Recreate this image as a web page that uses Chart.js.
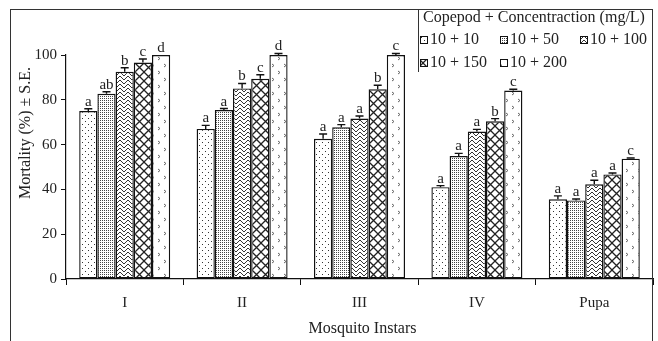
<!DOCTYPE html>
<html>
<head>
<meta charset="utf-8">
<script src="https://cdn.jsdelivr.net/npm/chart.js@4.4.1/dist/chart.umd.min.js"></script>
<style>
  html, body { margin: 0; padding: 0; background: #fff; }
  #wrap { width: 658px; height: 341px; position: relative; }
</style>
</head>
<body>
<div id="wrap"><canvas id="chartMortalidad"></canvas></div>
<script>
// ---- datos ----
const instars = ['I', 'II', 'III', 'IV', 'Pupa'];
const seriesLabels = ['10 + 10', '10 + 50', '10 + 100', '10 + 150', '10 + 200'];

const mort10_10  = [75.0, 67.0, 62.6, 41.0, 35.6];
const mort10_50  = [82.7, 75.4, 67.7, 54.9, 35.1];
const mort10_100 = [92.5, 85.1, 71.6, 65.8, 42.3];
const mort10_150 = [96.6, 89.4, 84.7, 70.4, 46.7];
const mort10_200 = [100, 100, 100, 84.1, 53.7];

const se10_10  = [1.0, 1.6, 2.1, 0.7, 1.5];
const se10_50  = [0.9, 0.7, 1.2, 1.2, 0.6];
const se10_100 = [1.8, 2.2, 1.2, 1.0, 1.8];
const se10_150 = [1.6, 1.8, 1.8, 1.2, 0.6];
const se10_200 = [0, 0.7, 0.7, 0.6, 0.3];

const let10_10  = ['a', 'a', 'a', 'a', 'a'];
const let10_50  = ['ab', 'a', 'a', 'a', 'a'];
const let10_100 = ['b', 'b', 'a', 'a', 'a'];
const let10_150 = ['c', 'c', 'b', 'b', 'a'];
const let10_200 = ['d', 'd', 'c', 'c', 'c'];

const yTicks = [0, 20, 40, 60, 80, 100];

const FONT = "'Liberation Serif', 'Times New Roman', serif";

// ---- tramas (patterns) ----
function crearTrama(tipo) {
  const c = document.createElement('canvas');
  const g = c.getContext('2d');
  let w = 6, h = 6;
  if (tipo === 2) { w = 2; h = 2; }
  if (tipo === 3) { w = 8; h = 8; }
  if (tipo === 4) { w = 9; h = 9; }
  if (tipo === 5) { w = 12; h = 14; }
  c.width = w; c.height = h;
  g.fillStyle = '#fff';
  g.fillRect(0, 0, w, h);
  g.fillStyle = '#333';
  g.strokeStyle = '#333';
  if (tipo === 1) {
    g.fillRect(1, 1, 1, 1);
    g.fillRect(4, 4, 1, 1);
  } else if (tipo === 2) {
    g.fillStyle = '#444';
    g.fillRect(0, 0, 1, 1);
  } else if (tipo === 3) {
    g.lineWidth = 1;
    g.beginPath();
    g.moveTo(0, 0); g.lineTo(4, 4); g.lineTo(8, 0);
    g.moveTo(0, 4); g.lineTo(4, 8); g.lineTo(8, 4);
    g.stroke();
  } else if (tipo === 4) {
    g.lineWidth = 1.3;
    g.strokeStyle = '#222';
    g.beginPath();
    g.moveTo(-1, -1); g.lineTo(10, 10);
    g.moveTo(10, -1); g.lineTo(-1, 10);
    g.stroke();
  } else if (tipo === 5) {
    g.lineWidth = 1;
    g.strokeStyle = '#666';
    g.beginPath();
    g.moveTo(2, 1); g.lineTo(4, 2.5); g.lineTo(2, 4);
    g.moveTo(8, 8); g.lineTo(10, 9.5); g.lineTo(8, 11);
    g.stroke();
  }
  return g.createPattern(c, 'repeat');
}

const tramas = [1, 2, 3, 4, 5].map(crearTrama);

const valores = [mort10_10, mort10_50, mort10_100, mort10_150, mort10_200];
const errores = [se10_10, se10_50, se10_100, se10_150, se10_200];
const letras = [let10_10, let10_50, let10_100, let10_150, let10_200];

const datasets = seriesLabels.map((lab, i) => ({
  label: lab,
  data: valores[i],
  errores: errores[i],
  letras: letras[i],
  backgroundColor: tramas[i],
  borderColor: '#111',
  borderWidth: 1.4,
  borderSkipped: false,
  categoryPercentage: 0.775,
  barPercentage: 1.0
}));

// ---- plugins propios ----
const marcoPlugin = {
  id: 'marco',
  afterDraw(chart) {
    const ctx = chart.ctx;
    ctx.save();
    ctx.strokeStyle = '#333';
    ctx.lineWidth = 1;
    ctx.strokeRect(10.5, 9.5, 642, 400);
    ctx.restore();
  }
};

const erroresPlugin = {
  id: 'barrasError',
  afterDatasetsDraw(chart) {
    const ctx = chart.ctx;
    const y = chart.scales.y;
    ctx.save();
    ctx.strokeStyle = '#111';
    ctx.lineWidth = 1.4;
    ctx.fillStyle = '#222';
    ctx.font = '15px ' + FONT;
    ctx.textAlign = 'center';
    ctx.textBaseline = 'alphabetic';
    chart.data.datasets.forEach((ds, i) => {
      const meta = chart.getDatasetMeta(i);
      meta.data.forEach((bar, j) => {
        const v = ds.data[j];
        const se = ds.errores[j];
        const yTop = y.getPixelForValue(v + se);
        const yBar = y.getPixelForValue(v);
        if (se > 0) {
          ctx.beginPath();
          ctx.moveTo(bar.x, yBar);
          ctx.lineTo(bar.x, yTop);
          ctx.moveTo(bar.x - 4, yTop);
          ctx.lineTo(bar.x + 4, yTop);
          ctx.stroke();
        }
        ctx.fillText(ds.letras[j], bar.x, yTop - 3);
      });
    });
    ctx.restore();
  }
};

const textosPlugin = {
  id: 'textos',
  afterDraw(chart) {
    const ctx = chart.ctx;
    const area = chart.chartArea;
    ctx.save();
    ctx.fillStyle = '#222';
    ctx.font = '16px ' + FONT;
    ctx.textAlign = 'center';
    ctx.textBaseline = 'middle';
    // titulo eje X
    ctx.fillText('Mosquito Instars', (area.left + area.right) / 2 + 3, 329);
    // titulo eje Y
    ctx.save();
    ctx.translate(26, 133);
    ctx.rotate(-Math.PI / 2);
    ctx.fillText('Mortality (%) \u00b1 S.E.', 0, 0);
    ctx.restore();

    // leyenda
    ctx.strokeStyle = '#333';
    ctx.lineWidth = 1;
    ctx.beginPath();
    ctx.moveTo(418.5, 9.5);
    ctx.lineTo(418.5, 72);
    ctx.stroke();
    ctx.fillText('Copepod + Concentraction (mg/L)', 534, 18);
    const pos = [[420, 40], [500, 40], [580, 40], [420, 63], [500, 63]];
    ctx.textAlign = 'left';
    chart.data.datasets.forEach((ds, i) => {
      const [px, py] = pos[i];
      ctx.fillStyle = ds.backgroundColor;
      ctx.fillRect(px, py - 4, 8, 8);
      ctx.strokeStyle = '#111';
      ctx.strokeRect(px + 0.5, py - 3.5, 7, 7);
      ctx.fillStyle = '#222';
      ctx.fillText(ds.label, px + 10, py);
    });
    ctx.restore();
  }
};

// ---- grafico ----
const canvas = document.getElementById('chartMortalidad');
new Chart(canvas, {
  type: 'bar',
  data: { labels: instars, datasets: datasets },
  options: {
    responsive: true,
    maintainAspectRatio: false,
    animation: false,
    layout: { padding: { left: 10, top: 55, right: 5, bottom: 0 } },
    plugins: {
      legend: { display: false },
      tooltip: { enabled: false }
    },
    scales: {
      x: {
        grid: { offset: true, drawOnChartArea: false, tickLength: 6, color: '#111', lineWidth: 1 },
        border: { color: '#111', width: 1.2 },
        ticks: { font: { family: FONT, size: 15 }, color: '#222', padding: 9 },
        afterFit(scale) { scale.height = 62; }
      },
      y: {
        min: 0,
        max: 100,
        afterBuildTicks(scale) { scale.ticks = yTicks.map(v => ({ value: v })); },
        grid: { drawOnChartArea: false, tickLength: 5, color: '#111', lineWidth: 1 },
        border: { color: '#111', width: 1.2 },
        ticks: { font: { family: FONT, size: 15 }, color: '#222', padding: 4 },
        afterFit(scale) { scale.width = 56; }
      }
    }
  },
  plugins: [erroresPlugin, textosPlugin, marcoPlugin]
});
</script>
</body>
</html>
